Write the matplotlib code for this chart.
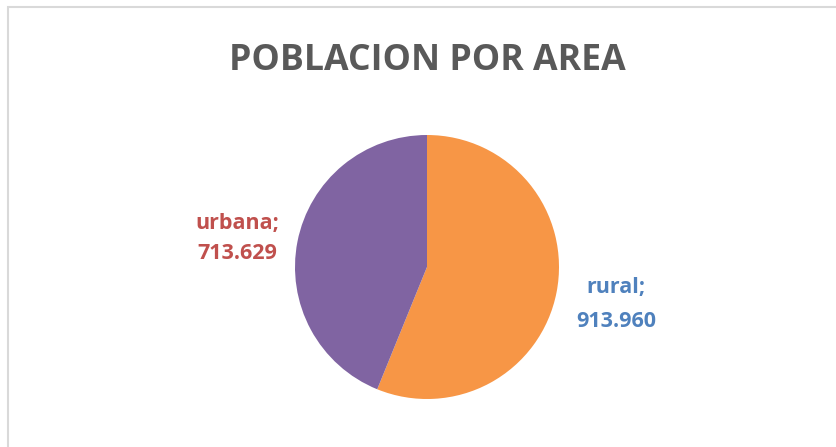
import matplotlib
matplotlib.use('Agg')
import matplotlib.pyplot as plt
from matplotlib.patches import Rectangle

# datos
areas = ['rural', 'urbana']
poblacion = [913960, 713629]
etiquetas = ['913.960', '713.629']
colores = ['#F79646', '#8064A2']
colores_texto = ['#4F81BD', '#C0504D']

W, H = 836, 447
fig = plt.figure(figsize=(W / 100, H / 100), dpi=100)
plt.rcParams['font.family'] = ['Open Sans', 'DejaVu Sans']

# marco gris (solo arriba e izquierda visibles)
fig.add_artist(Rectangle((7.5 / W, -0.1), 1.2, (H - 7.5) / H + 0.1,
                         transform=fig.transFigure, fill=False,
                         edgecolor='#D9D9D9', linewidth=1.5))

# titulo
fig.text(427.5 / W, 1 - 70 / H, 'POBLACION POR AREA', ha='center', va='baseline',
         fontsize=25.7, fontweight='bold', color='#595959')

# pastel
ax = fig.add_axes([295 / W, 1 - 399 / H, 264 / W, 264 / H])
ax.pie(poblacion, colors=colores, startangle=90, counterclock=False,
       radius=1, wedgeprops=dict(linewidth=0))
ax.set_xlim(-1, 1)
ax.set_ylim(-1, 1)
ax.set_aspect('equal')
ax.axis('off')

# etiquetas de datos (x, linea base 1, linea base 2)
pos = [(616, 293, 327), (237.5, 229, 259)]
for i in range(len(areas)):
    x, y1, y2 = pos[i]
    fig.text(x / W, 1 - y1 / H, areas[i] + ';', ha='center', va='baseline',
             fontsize=15.5, fontweight='bold', color=colores_texto[i])
    fig.text(x / W, 1 - y2 / H, etiquetas[i], ha='center', va='baseline',
             fontsize=15.5, fontweight='bold', color=colores_texto[i])

fig.savefig('out.png', dpi=100)
